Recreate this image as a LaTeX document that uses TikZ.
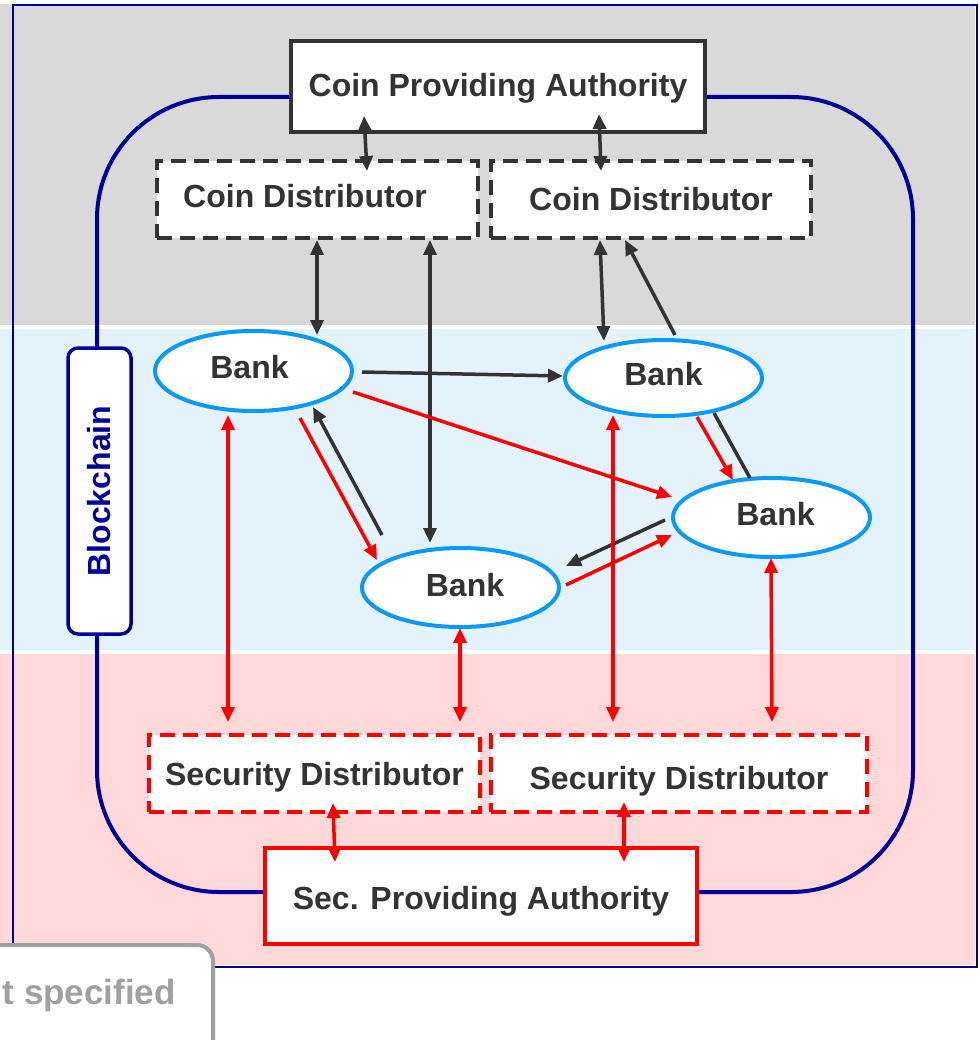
\documentclass[tikz,border=0pt]{standalone}
\usepackage{fontspec}
\setmainfont{Liberation Sans}
\usetikzlibrary{arrows.meta,shapes.geometric,calc}
\definecolor{bandgray}{HTML}{D9D9D9}
\definecolor{bandblue}{HTML}{E4F2FC}
\definecolor{bandpink}{HTML}{FFD8DA}
\definecolor{navy}{HTML}{000099}
\definecolor{txt}{HTML}{333333}
\definecolor{bankblue}{HTML}{0A9AF5}
\definecolor{nsgray}{HTML}{A0A0A0}
\newcommand{\mvtxt}[2]{\raisebox{#1}[\height][\depth]{#2}}
\begin{document}
\begin{tikzpicture}[x=1pt,y=-1pt,
  lbl/.style={font=\fontsize{32}{37}\selectfont\bfseries, text=txt, inner sep=0pt},
  solidbox/.style={lbl, draw=txt, line width=3.5pt, fill=white},
  dashbox/.style={lbl, draw=txt, line width=3.5pt, fill=white, dash pattern=on 15pt off 8pt},
  reddash/.style={lbl, draw=red, line width=3.5pt, fill=white, dash pattern=on 15pt off 8pt},
  redbox/.style={lbl, draw=red, line width=3.5pt, fill=white},
  bank/.style={lbl, ellipse, draw=bankblue, line width=4pt, fill=white, minimum width=197pt},
  ga/.style={draw=txt, line width=3.5pt, -{Triangle[length=15pt,width=13pt]}},
  gda/.style={draw=txt, line width=3.5pt, {Triangle[length=15pt,width=13pt]}-{Triangle[length=15pt,width=13pt]}},
  ra/.style={draw=red, line width=3.5pt, -{Triangle[length=15pt,width=13pt]}},
  rda/.style={draw=red, line width=3.5pt, {Triangle[length=15pt,width=13pt]}-{Triangle[length=15pt,width=13pt]}},
  gl/.style={draw=txt, line width=3.5pt}
]
\useasboundingbox (0,0) rectangle (979,1040);
% bands
\fill[bandgray] (0,4) rectangle (975,325);
\fill[bandblue] (0,329) rectangle (975,650);
\fill[bandpink] (0,654) rectangle (975,965);
\draw[navy, line width=1.5pt] (13,5) rectangle (977,967);
% blockchain loop
\draw[navy, line width=4pt, rounded corners=122pt] (97,97) rectangle (913,892);

% nodes
\node[solidbox, minimum width=414pt, minimum height=91pt] (cpa) at (498,86.5) {\mvtxt{-2pt}{Coin Providing Authority}};
\node[dashbox, minimum width=321pt, minimum height=77pt] (cdl) at (317.5,199.5) {\mvtxt{3pt}{Coin Distributor}\hspace*{25pt}};
\node[dashbox, minimum width=320pt, minimum height=77pt] (cdr) at (651,199.5) {Coin Distributor};
\node[bank, minimum height=80pt] (b1) at (253.5,371) {\mvtxt{4pt}{Bank}\hspace*{8pt}};
\node[bank, minimum height=76pt] (b2) at (663.5,378) {\mvtxt{4pt}{Bank}};
\node[bank, minimum height=79pt] (b3) at (771.5,517.5) {\hspace*{8pt}\mvtxt{3pt}{Bank}};
\node[bank, minimum height=79pt] (b4) at (460.5,587.5) {\hspace*{9pt}\mvtxt{2pt}{Bank}};
\node[lbl, text=navy, draw=navy, fill=white, line width=3.5pt, rounded corners=10pt, rotate=90, minimum width=286pt, minimum height=63pt] (bc) at (99.5,491) {Blockchain};
\node[reddash, minimum width=331pt, minimum height=77pt] (sdl) at (314.5,773.5) {\mvtxt{-4pt}{Security Distributor}};
\node[reddash, minimum width=376pt, minimum height=77pt] (sdr) at (679,773.5) {\mvtxt{-8pt}{Security Distributor}};
\node[redbox, minimum width=432pt, minimum height=96pt] (spa) at (481,896) {\mvtxt{-5pt}{Sec. Providing Authority}};

% not-specified box
\node[draw=nsgray, line width=4pt, fill=white, rounded corners=16pt, minimum width=260pt, minimum height=115pt, inner sep=0pt] (ns) at (83,1002.5) {};
\node[font=\fontsize{35}{40}\selectfont\bfseries, text=nsgray, anchor=east, inner sep=0pt] (nst) at (176,995) {t specified};

% coin connectors
\draw[gda] ($(cpa)+(-134,29.5)$) -- ($(cdl)+(49.5,-28.5)$);
\draw[gda] ($(cpa)+(101,27.5)$) -- ($(cdr)+(-50,-28.5)$);
\draw[gda] ($(cdl)+(-0.5,40.5)$) -- ($(b1)+(63.5,-36)$);
\draw[gda] ($(cdl)+(112.5,40.5)$) -- ($(b4)+(-30.5,-44.5)$);
\draw[gda] ($(cdr)+(-51,40.5)$) -- ($(b2)+(-59.5,-37)$);
\draw[ga] ($(b2)+(11.5,-43)$) -- ($(cdr)+(-26,40.5)$);

% bank-to-bank
\draw[ga] ($(b1)+(108.5,1)$) -- ($(b2)+(-100.5,-2)$);
\draw[ra] ($(b1)+(99.5,21)$) -- ($(b3)+(-99.5,-20.5)$);
\draw[ra] ($(b1)+(46.5,47)$) -- ($(b4)+(-83.5,-27.5)$);
\draw[ga] ($(b4)+(-78.5,-52.5)$) -- ($(b1)+(59.5,36)$);
\draw[ra] ($(b2)+(33.5,39)$) -- ($(b3)+(-38.5,-37.5)$);
\draw[gl] ($(b3)+(-21.5,-39.5)$) -- ($(b2)+(50.5,35)$);
\draw[ga] ($(b3)+(-106.5,2.5)$) -- ($(b4)+(105.5,-21.5)$);
\draw[ra] ($(b4)+(105.5,-2.5)$) -- ($(b3)+(-99.5,17.5)$);

% security connectors
\draw[rda] ($(b1)+(-25.5,44)$) -- ($(sdl)+(-86.5,-51.5)$);
\draw[rda] ($(b4)+(-0.5,40.5)$) -- ($(sdl)+(145.5,-51.5)$);
\draw[rda] ($(b2)+(-50.5,37)$) -- ($(sdr)+(-66,-51.5)$);
\draw[rda] ($(b3)+(-0.5,40.5)$) -- ($(sdr)+(93,-51.5)$);
\draw[rda] ($(sdl)+(18.5,29.5)$) -- ($(spa)+(-146,-34)$);
\draw[rda] ($(sdr)+(-55,28.5)$) -- ($(spa)+(143,-34)$);
\end{tikzpicture}
\end{document}
